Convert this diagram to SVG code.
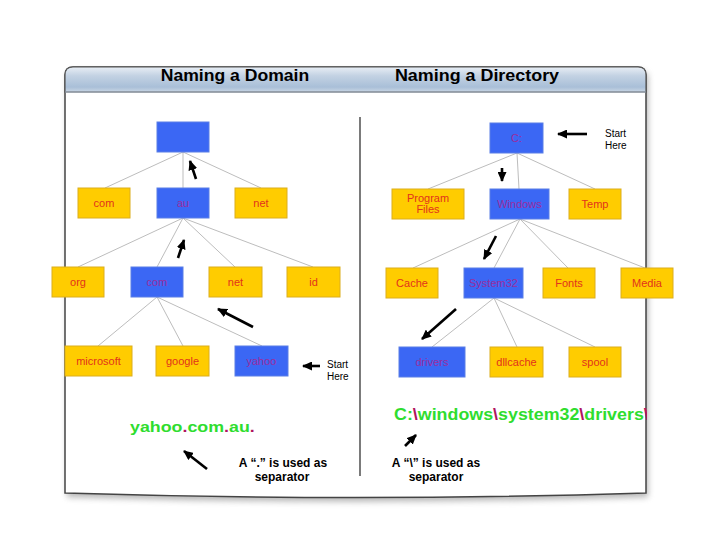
<svg xmlns="http://www.w3.org/2000/svg" width="720" height="540" viewBox="0 0 720 540">
<defs>
<linearGradient id="hdr" x1="0" y1="0" x2="0" y2="1">
<stop offset="0" stop-color="#e8eef5"/>
<stop offset="0.35" stop-color="#c3d2e3"/>
<stop offset="0.8" stop-color="#a9bfd8"/>
<stop offset="1" stop-color="#c9d6e4"/>
</linearGradient>
<filter id="sh" x="-5%" y="-5%" width="110%" height="115%">
<feGaussianBlur stdDeviation="3"/>
</filter>
<clipPath id="inner"><rect x="0" y="0" width="647" height="540"/></clipPath>
<marker id="ah" markerUnits="userSpaceOnUse" markerWidth="10" markerHeight="9" viewBox="0 0 10 9" refX="9" refY="4.5" orient="auto">
<path d="M0,0 L10,4.5 L0,9 z" fill="#000"/>
</marker>
</defs>
<style>
.y{fill:#ffcc00;stroke:#dcae1c;stroke-width:1}
.b{fill:#3b67f4;stroke:#5a7fe6;stroke-width:1}
.ty{font-family:"Liberation Sans",Arial,sans-serif;font-size:11px;fill:#e2321c;text-anchor:middle}
.tb{font-family:"Liberation Sans",Arial,sans-serif;font-size:11px;fill:#9c2c9e;text-anchor:middle}
.conn line{stroke:#bdbdbd;stroke-width:1}
.arr{stroke:#000;stroke-width:2.6;marker-end:url(#ah)}
.hd{font-family:"Liberation Sans",Arial,sans-serif;font-size:16px;font-weight:bold;fill:#000;text-anchor:middle}
.sm{font-family:"Liberation Sans",Arial,sans-serif;font-size:10px;fill:#000}
.note{font-family:"Liberation Sans",Arial,sans-serif;font-size:12px;font-weight:bold;fill:#000;text-anchor:middle}
.gr{font-family:"Liberation Sans",Arial,sans-serif;font-weight:bold;fill:#2fdd2f}
.sep{fill:#b0145e}
</style>
<rect width="720" height="540" fill="#fff"/>
<g id="panel">
<path d="M65,493 L65,75 Q65,67 73,67 L638,67 Q646,67 646,75 L646,493 Q355,502 65,493 Z" transform="translate(2,4)" fill="#777" opacity="0.55" filter="url(#sh)"/>
<path d="M65,493 L65,75 Q65,67 73,67 L638,67 Q646,67 646,75 L646,493 Q355,502 65,493 Z" fill="#fff" stroke="#444" stroke-width="1.5"/>
<path d="M65,92 L65,75 Q65,67 73,67 L638,67 Q646,67 646,75 L646,92 Z" fill="url(#hdr)" stroke="#555" stroke-width="1.2"/>
<line x1="65" y1="92" x2="646" y2="92" stroke="#98a6b6" stroke-width="1"/>
<line x1="360" y1="117" x2="360" y2="476" stroke="#222" stroke-width="1.2"/>
</g>
<g id="headings">
<text class="hd" transform="translate(235,81) scale(1.1,1)">Naming a Domain</text>
<text class="hd" transform="translate(477,81) scale(1.12,1)">Naming a Directory</text>
</g>
<g id="connectors" class="conn">
<line x1="183" y1="152" x2="105" y2="188"/>
<line x1="183" y1="152" x2="183" y2="188"/>
<line x1="183" y1="152" x2="261" y2="188"/>
<line x1="183" y1="218" x2="78" y2="267"/>
<line x1="183" y1="218" x2="157" y2="267"/>
<line x1="183" y1="218" x2="235" y2="267"/>
<line x1="183" y1="218" x2="313" y2="267"/>
<line x1="157" y1="297" x2="98" y2="346"/>
<line x1="157" y1="297" x2="183" y2="346"/>
<line x1="157" y1="297" x2="262" y2="346"/>
<line x1="517" y1="153" x2="428" y2="189"/>
<line x1="517" y1="153" x2="519" y2="189"/>
<line x1="517" y1="153" x2="595" y2="189"/>
<line x1="520" y1="219" x2="413" y2="268"/>
<line x1="520" y1="219" x2="494" y2="268"/>
<line x1="520" y1="219" x2="568" y2="268"/>
<line x1="520" y1="219" x2="645" y2="268"/>
<line x1="494" y1="298" x2="432" y2="347"/>
<line x1="494" y1="298" x2="517" y2="347"/>
<line x1="494" y1="298" x2="595" y2="347"/>
</g>
<g id="d-root"><rect class="b" x="157" y="122" width="52" height="30"/></g>
<g id="d-com"><rect class="y" x="78" y="188" width="52" height="30"/><text class="ty" x="104" y="207">com</text></g>
<g id="d-au"><rect class="b" x="157" y="188" width="52" height="30"/><text class="tb" x="183" y="207">au</text></g>
<g id="d-net"><rect class="y" x="235" y="188" width="52" height="30"/><text class="ty" x="261" y="207">net</text></g>
<g id="d-org"><rect class="y" x="52" y="267" width="52" height="30"/><text class="ty" x="78" y="286">org</text></g>
<g id="d-com2"><rect class="b" x="131" y="267" width="52" height="30"/><text class="tb" x="157" y="286">com</text></g>
<g id="d-net2"><rect class="y" x="209" y="267" width="53" height="30"/><text class="ty" x="235.5" y="286">net</text></g>
<g id="d-id"><rect class="y" x="287" y="267" width="53" height="30"/><text class="ty" x="313.5" y="286">id</text></g>
<g id="d-microsoft"><rect class="y" x="65" y="346" width="67" height="30"/><text class="ty" x="98.5" y="365">microsoft</text></g>
<g id="d-google"><rect class="y" x="156" y="346" width="53" height="30"/><text class="ty" x="182.5" y="365">google</text></g>
<g id="d-yahoo"><rect class="b" x="235" y="346" width="53" height="30"/><text class="tb" x="261.5" y="365">yahoo</text></g>
<g id="f-c"><rect class="b" x="490" y="123" width="53" height="30"/><text class="tb" x="516.5" y="142">C:</text></g>
<g id="f-program"><rect class="y" x="392" y="189" width="72" height="30"/><text class="ty" x="428" y="201.5">Program</text><text class="ty" x="428" y="212.5">Files</text></g>
<g id="f-windows"><rect class="b" x="490" y="189" width="59" height="30"/><text class="tb" x="519.5" y="208">Windows</text></g>
<g id="f-temp"><rect class="y" x="569" y="189" width="52" height="30"/><text class="ty" x="595" y="208">Temp</text></g>
<g id="f-cache"><rect class="y" x="386" y="268" width="52" height="30"/><text class="ty" x="412" y="287">Cache</text></g>
<g id="f-system32"><rect class="b" x="464" y="268" width="59" height="30"/><text class="tb" x="493.5" y="287">System32</text></g>
<g id="f-fonts"><rect class="y" x="543" y="268" width="52" height="30"/><text class="ty" x="569" y="287">Fonts</text></g>
<g id="f-media"><rect class="y" x="621" y="268" width="52" height="30"/><text class="ty" x="647" y="287">Media</text></g>
<g id="f-drivers"><rect class="b" x="399" y="347" width="66" height="30"/><text class="tb" x="432" y="366">drivers</text></g>
<g id="f-dllcache"><rect class="y" x="490" y="347" width="53" height="30"/><text class="ty" x="516.5" y="366">dllcache</text></g>
<g id="f-spool"><rect class="y" x="569" y="347" width="52" height="30"/><text class="ty" x="595" y="366">spool</text></g>
<g id="arrows">
<line class="arr" x1="196" y1="179" x2="190" y2="161"/>
<line class="arr" x1="178" y1="258" x2="184" y2="240"/>
<line class="arr" x1="253" y1="327" x2="218" y2="309"/>
<line class="arr" x1="320" y1="366" x2="303" y2="366"/>
<line class="arr" x1="207" y1="469" x2="184" y2="451"/>
<line class="arr" x1="587" y1="134" x2="558" y2="134"/>
<line class="arr" x1="502" y1="168" x2="502" y2="181"/>
<line class="arr" x1="496" y1="236" x2="484" y2="259"/>
<line class="arr" x1="456" y1="309" x2="422" y2="339"/>
<line class="arr" x1="405" y1="446" x2="416" y2="435"/>
</g>
<g id="labels">
<text class="sm" x="327" y="368">Start</text>
<text class="sm" x="327" y="380">Here</text>
<text class="sm" x="605" y="137">Start</text>
<text class="sm" x="605" y="148.5">Here</text>
<text class="gr" font-size="15.5" transform="translate(130,432) scale(1.15,1)">yahoo<tspan class="sep">.</tspan>com<tspan class="sep">.</tspan>au<tspan class="sep">.</tspan></text>
<g clip-path="url(#inner)">
<text class="gr" font-size="16" transform="translate(394,420) scale(1.115,1)">C:<tspan class="sep">\</tspan>windows<tspan class="sep">\</tspan>system32<tspan class="sep">\</tspan>drivers<tspan class="sep">\</tspan></text>
</g>
<text class="note" x="283" y="467">A “.” is used as</text>
<text class="note" x="282" y="481">separator</text>
<text class="note" x="436" y="467">A “\” is used as</text>
<text class="note" x="436" y="481">separator</text>
</g>
</svg>
